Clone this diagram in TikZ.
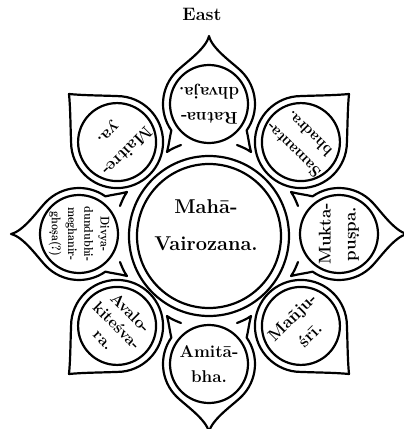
\documentclass[tikz,border=0pt]{standalone}
\usepackage{fontspec}
\tikzset{
  lotusline/.style={line width=2.2pt, line join=round, line cap=round},
  cardpetal/.pic={
    \draw[lotusline] (28,-41) .. controls (33,-43) and (38,-45) .. (42,-48)
      .. controls (40,-40) and (39,-32) .. (-35:46)
      arc[start angle=-35,end angle=45,radius=46]
      .. controls (24,41) and (3,55) .. (0,68)
      .. controls (-3,55) and (-24,41) .. (135:46)
      arc[start angle=135,end angle=215,radius=46]
      .. controls (-39,-32) and (-40,-40) .. (-42,-48)
      .. controls (-38,-45) and (-33,-43) .. (-28,-41);
  },
  diagpetal/.pic={
    \draw[lotusline] (0,68) .. controls (-9,57) and (-21,45) .. (135:46)
      arc[start angle=135,end angle=405,radius=46]
      .. controls (21,45) and (9,57) .. (0,68) -- cycle;
  },
  seat/.style={draw, circle, lotusline, minimum size=78pt, inner sep=0pt},
  ptext/.style={align=center, inner sep=0pt, font=\bfseries\fontsize{17}{25}\selectfont},
  smalltext/.style={align=center, inner sep=0pt, font=\bfseries\fontsize{10.5}{13.5}\selectfont},
}
\begin{document}
\begin{tikzpicture}[x=1pt,y=1pt]
\useasboundingbox (-209,-195) rectangle (195,234);
% title
\node[font=\bfseries\fontsize{18}{20}\selectfont, anchor=base, inner sep=0pt] (east) at (-7,214) {East};
% centre
\node[draw,circle,lotusline,minimum size=160pt,inner sep=0pt] (outer) at (0,-2) {};
\node[draw,circle,lotusline,minimum size=144pt,inner sep=0pt] (inner) at (0,-2) {};
\node[align=center,inner sep=0pt,font=\bfseries\fontsize{20}{37}\selectfont] (mv) at (-3,9) {Mahā-\\Vairozana.};
% cardinal petals
\pic[rotate=0] at (90:130) {cardpetal};
\pic[rotate=-90] at (0:130) {cardpetal};
\pic[rotate=180] at (-90:130) {cardpetal};
\pic[rotate=90] at (180:130) {cardpetal};
% diagonal petals
\pic[rotate=-45] at (45:130) {diagpetal};
\pic[rotate=-135] at (-45:130) {diagpetal};
\pic[rotate=135] at (-135:130) {diagpetal};
\pic[rotate=45] at (135:130) {diagpetal};
% seats
\node[seat] (ratna) at (90:130) {};
\node[seat] (samanta) at (45:130) {};
\node[seat] (mukta) at (0:130) {};
\node[seat] (manju) at (-45:130) {};
\node[seat] (amita) at (-90:130) {};
\node[seat] (avalo) at (-135:130) {};
\node[seat] (divya) at (180:130) {};
\node[seat] (maitre) at (135:130) {};
% texts
\node[ptext,rotate=180] (ratnat) at (90:130) {Ratna-\\dhvaja.};
\node[ptext,rotate=135,font=\bfseries\fontsize{15.5}{23}\selectfont] (samantat) at (45:130) {Samanta-\\bhadra.};
\node[ptext,rotate=90] (muktat) at (0:130) {Mukta-\\puṣpa.};
\node[ptext,rotate=45] (manjut) at (-45:130) {Mañju-\\śrī.};
\node[ptext,rotate=0] (amitat) at (-90:130) {Amitā-\\bha.};
\node[ptext,rotate=-45,font=\bfseries\fontsize{16}{19}\selectfont] (avalot) at (-135:130) {Avalo-\\kiteśva-\\ra.};
\node[smalltext,rotate=-90,yscale=1.2] (divyat) at (180:130) {Divya-\\dundubhi-\\meghanir-\\ghoṣa(?)};
\node[ptext,rotate=-135] (maitret) at (135:130) {Maitre-\\ya.};
\end{tikzpicture}
\end{document}
